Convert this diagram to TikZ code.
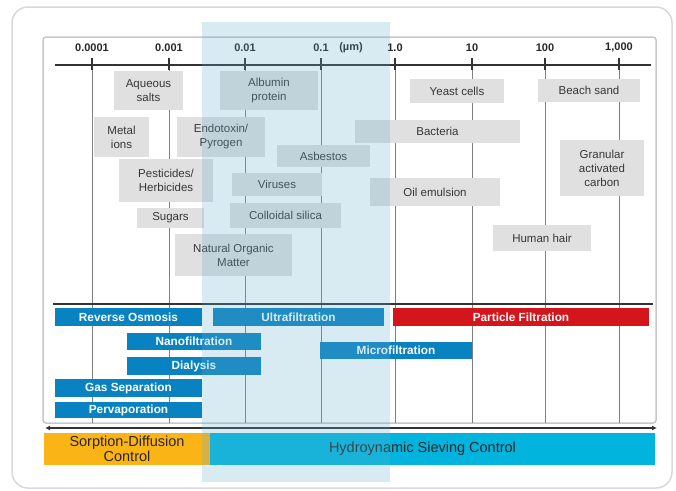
\documentclass[tikz,border=0pt]{standalone}
\usepackage{fontspec}
\setmainfont{Liberation Sans}
\usetikzlibrary{arrows.meta}
\definecolor{boxgray}{RGB}{224,224,224}
\definecolor{textgray}{RGB}{55,55,55}
\definecolor{procblue}{RGB}{8,130,192}
\definecolor{procred}{RGB}{212,22,28}
\definecolor{sorporange}{RGB}{251,180,22}
\definecolor{sievecyan}{RGB}{0,180,221}
\definecolor{bandblue}{RGB}{100,175,205}
\tikzstyle{item}=[fill=boxgray,text=textgray,align=center,inner sep=0pt,font=\fontsize{11.5}{14}\selectfont]
\tikzstyle{process}=[fill=procblue,text=white,inner sep=0pt,minimum height=18pt,font=\fontsize{11.8}{14}\bfseries\selectfont]
\tikzstyle{control}=[text=black!85,align=center,inner sep=0pt,minimum height=32pt,font=\fontsize{14.5}{12}\selectfont]
\tikzstyle{grid}=[black!50,line width=0.9pt]
\tikzstyle{axis}=[black!80,line width=2pt]

\begin{document}
\begin{tikzpicture}[x=1pt,y=-1pt]
\useasboundingbox (0,0) rectangle (676,490);
% frames
\draw[black!15,line width=1.5pt,rounded corners=16pt] (12,7) rectangle (672,488);
\draw[black!22,line width=1.5pt,rounded corners=3pt] (43,37) rectangle (656,423);
% size scale
\coordinate (axl) at (55,65);
\coordinate (axr) at (651,65);
\foreach \x/\lbl [count=\i] in {92/0.0001, 169/0.001, 245/0.01, 321/0.1, 395/1.0, 472/10, 545/100, 619/{1,000}} {
  \draw[grid] (\x,65) -- (\x,423);
  \draw[axis,line width=1.5pt] (\x,58) -- (\x,70);
  \node[font=\fontsize{11}{12}\bfseries\selectfont,text=black!85] (t\i) at (\x,48) {\lbl};
}
\node[font=\fontsize{11}{12}\bfseries\selectfont,text=black!85] (unit) at (351,48) {(µm)};
\draw[axis] (axl) -- (axr);
% particles
\node[item,minimum width=69pt,minimum height=39pt] at (148.5,90.5) (aqueous) {Aqueous\\salts};
\node[item,minimum width=98pt,minimum height=39pt] at (269,90.5) (albumin) {Albumin\\protein};
\node[item,minimum width=55pt,minimum height=40pt] at (121.5,137) (metal) {Metal\\ions};
\node[item,minimum width=88pt,minimum height=40pt] at (221,137) (endotoxin) {Endotoxin/\\Pyrogen};
\node[item,minimum width=93pt,minimum height=22pt] at (323.5,156) (asbestos) {Asbestos};
\node[item,minimum width=94pt,minimum height=43pt] at (166,180.5) (pesticides) {Pesticides/\\Herbicides};
\node[item,minimum width=90pt,minimum height=23pt] at (277,184.5) (viruses) {Viruses};
\node[item,minimum width=67pt,minimum height=20pt] at (170.5,218) (sugars) {Sugars};
\node[item,minimum width=111pt,minimum height=25pt] at (285.5,215.5) (silica) {Colloidal silica};
\node[item,minimum width=117pt,minimum height=42pt] at (233.5,255) (nom) {Natural Organic\\Matter};
\node[item,minimum width=94pt,minimum height=24pt] at (457,91) (yeast) {Yeast cells};
\node[item,minimum width=102pt,minimum height=23pt] at (589,90.5) (sand) {Beach sand};
\node[item,minimum width=165pt,minimum height=23pt] at (437.5,131.5) (bacteria) {Bacteria};
\node[item,minimum width=84pt,minimum height=56pt] at (602,168) (carbon) {Granular\\activated\\carbon};
\node[item,minimum width=130pt,minimum height=28pt] at (435,192) (oil) {Oil emulsion};
\node[item,minimum width=98pt,minimum height=26pt] at (542,238) (hair) {Human hair};
% processes
\coordinate (pl) at (53,304);
\coordinate (pr) at (653,304);
\draw[axis] (pl) -- (pr);
\node[process,minimum width=147pt] at (128.5,317) (ro) {Reverse Osmosis};
\node[process,minimum width=171pt] at (298.5,317) (uf) {Ultrafiltration};
\node[process,fill=procred,minimum width=256pt] at (521,317) (pf) {Particle Filtration};
\node[process,minimum width=134pt,minimum height=17pt] at (194,341.5) (nf) {Nanofiltration};
\node[process,minimum width=152pt,minimum height=17pt] at (396,350.5) (mf) {Microfiltration};
\node[process,minimum width=134pt] at (194,366) (dia) {Dialysis};
\node[process,minimum width=147pt] at (128.5,388) (gs) {Gas Separation};
\node[process,minimum width=147pt,minimum height=16pt] at (128.5,410) (pv) {Pervaporation};
% control mechanism
\coordinate (cl) at (45,428);
\coordinate (cr) at (657,428);
\draw[axis,{Latex[length=5pt,width=5pt]}-{Latex[length=5pt,width=5pt]}] (cl) -- (cr);
\node[control,fill=sorporange,minimum width=166pt] at (127,449) (sdc) {Sorption-Diffusion\\Control};
\node[control,fill=sievecyan,minimum width=445pt] at (432.5,449) (hsc) {\hspace*{-20pt}Hydroynamic Sieving Control};
% ultrafiltration band
\fill[bandblue,opacity=0.25] (202,22) rectangle (390,482);
\end{tikzpicture}
\end{document}
